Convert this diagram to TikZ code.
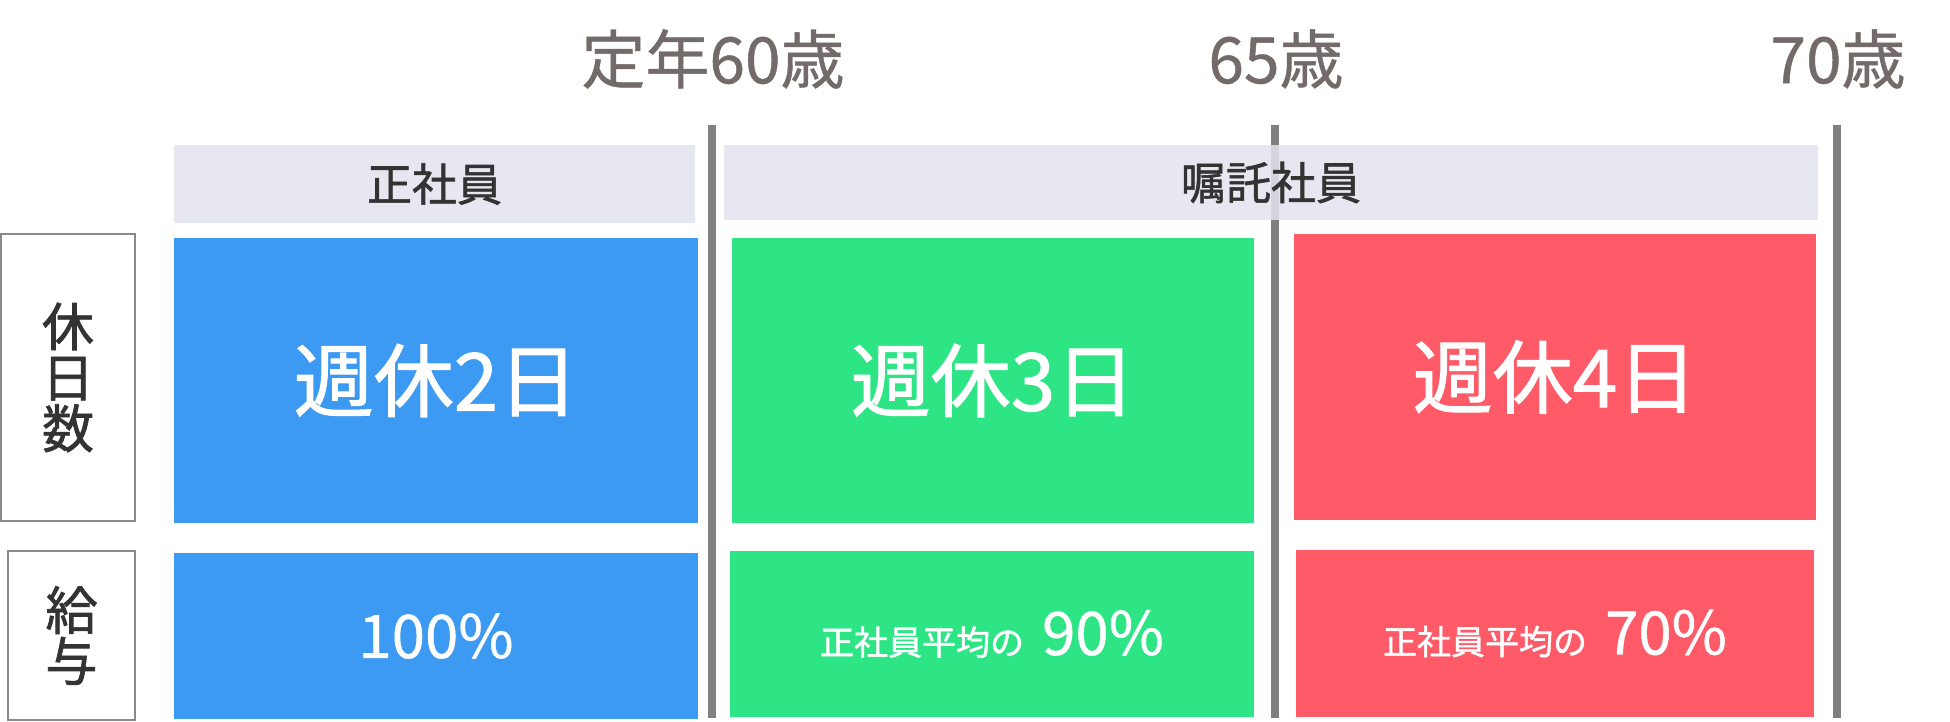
\documentclass[tikz,border=0pt]{standalone}
\usepackage{fontspec}
\setmainfont{Noto Sans CJK JP}
\newfontfamily\medfont[FakeBold=1.3]{Noto Sans CJK JP}
\newfontfamily\semifont[FakeBold=0.7]{Noto Sans CJK JP}
\definecolor{cblue}{HTML}{3C9AF3}
\definecolor{cgreen}{HTML}{2EE586}
\definecolor{cred}{HTML}{FF5A67}
\definecolor{chead}{HTML}{E3E3EE}
\definecolor{cline}{HTML}{808080}
\definecolor{cage}{HTML}{736B69}
\definecolor{ctext}{HTML}{333333}
\definecolor{cborder}{HTML}{8A8A8A}
\tikzset{
  cell/.style={rectangle, inner sep=0pt, outer sep=0pt, text=white, align=center},
  head/.style={rectangle, inner sep=0pt, fill=chead, fill opacity=0.85, text opacity=1, text=ctext, font=\medfont\fontsize{45}{45}\selectfont},
  side/.style={rectangle, inner sep=0pt, draw=cborder, line width=1.5pt, fill=white, text=ctext, align=center, font=\medfont\fontsize{52}{51}\selectfont},
  age/.style={inner sep=0pt, text=cage, font=\semifont\fontsize{64}{64}\selectfont},
  sep/.style={draw=cline, line width=8pt},
  big/.style={font=\medfont\fontsize{80}{80}\selectfont},
  pay/.style={font=\semifont\fontsize{60}{60}\selectfont}
}
\newcommand{\smalltxt}[1]{{\medfont\fontsize{34}{34}\selectfont #1}}
\begin{document}
\begin{tikzpicture}[x=1pt,y=-1pt]
\useasboundingbox (0,0) rectangle (1950,722);
% ages
\node[age] (a60) at (713,59) {定年60歳};
\node[age] (a65) at (1276,59) {65歳};
\node[age] (a70) at (1838,59) {70歳};
% separator lines
\coordinate (l60t) at (712,125); \coordinate (l60b) at (712,718);
\coordinate (l65t) at (1275,125); \coordinate (l65b) at (1275,718);
\coordinate (l70t) at (1837,125); \coordinate (l70b) at (1837,718);
\draw[sep] (l60t) -- (l60b);
\draw[sep] (l65t) -- (l65b);
\draw[sep] (l70t) -- (l70b);
% headers
\node[head, minimum width=521pt, minimum height=78pt] (h1) at (434.5,184) {正社員};
\node[head, minimum width=1094pt, minimum height=75pt] (h2) at (1271,182.5) {嘱託社員};
% side labels
\node[side, minimum width=134pt, minimum height=287pt] (s1) at (68,377.5) {休\\日\\数};
\node[side, minimum width=127pt, minimum height=169pt] (s2) at (71.5,635.5) {給\\与};
% top cells
\node[cell, fill=cblue, minimum width=524pt, minimum height=285pt, big] (t1) at (436,380.5) {\raisebox{-4pt}{週休2日}};
\node[cell, fill=cgreen, minimum width=522pt, minimum height=285pt, big] (t2) at (993,380.5) {\raisebox{-4pt}{週休3日}};
\node[cell, fill=cred, minimum width=522pt, minimum height=286pt, big] (t3) at (1555,377) {\raisebox{-4pt}{週休4日}};
% bottom cells
\node[cell, fill=cblue, minimum width=524pt, minimum height=166pt, pay] (p1) at (436,636) {100\%};
\node[cell, fill=cgreen, minimum width=524pt, minimum height=166pt, pay] (p2) at (992,634) {\smalltxt{正社員平均の}\hspace{18pt}90\%};
\node[cell, fill=cred, minimum width=518pt, minimum height=167pt, pay] (p3) at (1555,633.5) {\smalltxt{正社員平均の}\hspace{18pt}70\%};
\end{tikzpicture}
\end{document}
